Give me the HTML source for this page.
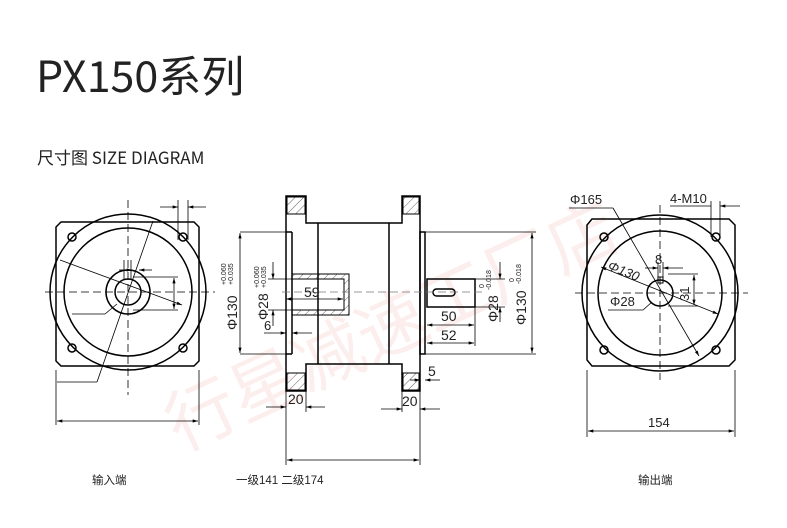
<!DOCTYPE html>
<html><head><meta charset="utf-8"><style>
html,body{margin:0;padding:0;background:#fff}
svg{display:block}
text{font-family:"Liberation Sans","Noto Sans CJK SC",sans-serif;fill:#222}
.t{font-family:"Noto Sans CJK SC","Liberation Sans",sans-serif}
</style></head><body>
<svg width="787" height="528" viewBox="0 0 787 528" xmlns="http://www.w3.org/2000/svg">
<defs>
<marker id="a" viewBox="0 0 10 6" refX="10" refY="3" markerWidth="7" markerHeight="4" orient="auto-start-reverse"><path d="M0,0L10,3L0,6z" fill="#000"/></marker>
<pattern id="h" width="6" height="6" patternUnits="userSpaceOnUse" patternTransform="rotate(45)"><line x1="0" y1="0" x2="0" y2="6" stroke="#000" stroke-width="0.6"/></pattern>
</defs>
<text class="t" x="140" y="390" font-size="70" style="fill:#fdeeee" transform="rotate(-25 300 330)">行星减速工厂店</text>
<text class="t" x="36" y="92" font-size="43">PX150系列</text>
<text class="t" x="37" y="164" font-size="17">尺寸图 SIZE DIAGRAM</text>

<!-- LEFT VIEW -->
<g fill="none" stroke="#000" stroke-width="1.5">
<path d="M61,222H194L199,227V361L194,366H61L56,361V227Z"/>
<circle cx="128" cy="292" r="78"/>
<circle cx="128" cy="292" r="64"/>
<circle cx="128" cy="292" r="22"/>
<circle cx="128" cy="292" r="13"/>
<circle cx="72" cy="237" r="4"/><circle cx="183" cy="237" r="4"/>
<circle cx="72" cy="348" r="4"/><circle cx="183" cy="348" r="4"/>
</g>
<g stroke="#000" stroke-width="0.8" fill="none">
<line x1="128" y1="200" x2="128" y2="395" stroke-dasharray="8,4"/>
<line x1="45" y1="292" x2="215" y2="292" stroke-dasharray="8,4"/>
<line x1="56" y1="370" x2="56" y2="425"/><line x1="199" y1="370" x2="199" y2="425"/>
<line x1="57" y1="421" x2="198" y2="421" marker-start="url(#a)" marker-end="url(#a)"/>
<line x1="178" y1="200" x2="178" y2="240"/><line x1="188" y1="200" x2="188" y2="240"/>
<line x1="160" y1="207" x2="178" y2="207" marker-end="url(#a)"/><line x1="188" y1="207" x2="206" y2="207" marker-start="url(#a)"/>
<line x1="155" y1="295" x2="60" y2="260"/><line x1="155" y1="295" x2="182" y2="305" marker-end="url(#a)"/>
<line x1="153" y1="221" x2="97" y2="382"/><line x1="97" y1="382" x2="57" y2="382"/>
<line x1="117" y1="304" x2="105" y2="314"/><line x1="105" y1="314" x2="72" y2="314"/>
<line x1="133" y1="277" x2="178" y2="277"/><line x1="133" y1="310" x2="178" y2="310"/>
<line x1="174" y1="278" x2="174" y2="309" marker-start="url(#a)" marker-end="url(#a)"/>
<line x1="119" y1="270" x2="132" y2="270" marker-end="url(#a)"/><line x1="139" y1="270" x2="152" y2="270" marker-start="url(#a)"/>
<line x1="124" y1="260" x2="124" y2="280"/><line x1="131" y1="260" x2="131" y2="280"/>
</g>

<!-- MIDDLE VIEW -->
<g fill="none" stroke="#000" stroke-width="1.5">
<path d="M286,196H306V223H402V196H420V391H402V364H306V391H286Z"/>
<line x1="318" y1="223" x2="318" y2="364"/><line x1="389" y1="223" x2="389" y2="364"/>
<line x1="292" y1="232" x2="292" y2="354"/><line x1="286" y1="232" x2="292" y2="232"/><line x1="286" y1="354" x2="292" y2="354"/>
<rect x="420" y="232" width="5" height="122"/>
<rect x="427" y="279" width="48" height="28"/>
<rect x="433" y="289" width="22" height="7" rx="3.5"/>
</g>
<g stroke="#000" stroke-width="1">
<rect x="287" y="197" width="18" height="17" fill="url(#h)"/>
<rect x="403" y="197" width="16" height="17" fill="url(#h)"/>
<rect x="287" y="373" width="18" height="17" fill="url(#h)"/>
<rect x="403" y="373" width="16" height="17" fill="url(#h)"/>
<path d="M292,274H349V315H292V310H344V279H292Z" fill="url(#h)"/>
</g>
<g stroke="#000" stroke-width="0.8" fill="none">
<line x1="282" y1="292" x2="485" y2="292" stroke="#777" stroke-dasharray="8,4"/>
<line x1="240" y1="232" x2="292" y2="232"/><line x1="240" y1="354" x2="292" y2="354"/>
<line x1="240" y1="233" x2="240" y2="353" marker-start="url(#a)" marker-end="url(#a)"/>
<line x1="268" y1="279" x2="292" y2="279"/><line x1="268" y1="310" x2="292" y2="310"/>
<line x1="273" y1="262" x2="273" y2="279" marker-end="url(#a)"/><line x1="273" y1="310" x2="273" y2="326" marker-start="url(#a)"/>
<line x1="286" y1="299" x2="343" y2="299" marker-start="url(#a)" marker-end="url(#a)"/>
<line x1="264" y1="333" x2="286" y2="333" marker-end="url(#a)"/><line x1="292" y1="333" x2="312" y2="333" marker-start="url(#a)"/>
<line x1="286" y1="391" x2="286" y2="465"/><line x1="420" y1="391" x2="420" y2="465"/><line x1="306" y1="391" x2="306" y2="412"/><line x1="402" y1="391" x2="402" y2="412"/>
<line x1="266" y1="407" x2="286" y2="407" marker-end="url(#a)"/><line x1="306" y1="407" x2="325" y2="407" marker-start="url(#a)"/>
<line x1="381" y1="409" x2="402" y2="409" marker-end="url(#a)"/><line x1="420" y1="409" x2="440" y2="409" marker-start="url(#a)"/>
<line x1="410" y1="380" x2="420" y2="380" marker-end="url(#a)"/><line x1="425" y1="380" x2="440" y2="380" marker-start="url(#a)"/>
<line x1="287" y1="460" x2="419" y2="460" marker-start="url(#a)" marker-end="url(#a)"/>
<line x1="425" y1="232" x2="536" y2="232"/><line x1="425" y1="354" x2="536" y2="354"/>
<line x1="532" y1="233" x2="532" y2="353" marker-start="url(#a)" marker-end="url(#a)"/>
<line x1="475" y1="279" x2="505" y2="279"/><line x1="475" y1="307" x2="505" y2="307"/>
<line x1="500" y1="262" x2="500" y2="279" marker-end="url(#a)"/><line x1="500" y1="307" x2="500" y2="322" marker-start="url(#a)"/>
<line x1="475" y1="307" x2="475" y2="346"/>
<line x1="427" y1="325" x2="474" y2="325" marker-start="url(#a)" marker-end="url(#a)"/>
<line x1="427" y1="343" x2="474" y2="343" marker-start="url(#a)" marker-end="url(#a)"/>
</g>
<g font-size="14">
<text x="304" y="297">59</text>
<text x="264" y="330" font-size="13">6</text>
<text x="288" y="404">20</text>
<text x="402" y="406">20</text>
<text x="428" y="376">5</text>
<text x="441" y="321">50</text>
<text x="441" y="340">52</text>
<text transform="translate(237,330) rotate(-90)">Φ130</text>
<text transform="translate(268,320) rotate(-90)">Φ28</text>
<text transform="translate(498,322) rotate(-90)">Φ28</text>
<text transform="translate(526,325) rotate(-90)">Φ130</text>
</g>
<g font-size="7">
<text transform="translate(226,285) rotate(-90)">+0.060</text>
<text transform="translate(233,285) rotate(-90)">+0.035</text>
<text transform="translate(259,288) rotate(-90)">+0.060</text>
<text transform="translate(266,288) rotate(-90)">+0.035</text>
<text transform="translate(484,288) rotate(-90)">0</text>
<text transform="translate(491,290) rotate(-90)">-0.018</text>
<text transform="translate(514,282) rotate(-90)">0</text>
<text transform="translate(521,284) rotate(-90)">-0.018</text>
</g>

<!-- RIGHT VIEW -->
<g fill="none" stroke="#000" stroke-width="1.5">
<path d="M592,219H729L735,225V360L729,366H592L587,360V225Z"/>
<circle cx="660" cy="293" r="78"/>
<circle cx="660" cy="293" r="62"/>
<circle cx="660" cy="293" r="13"/>
<rect x="658" y="277" width="5" height="6" stroke-width="1"/>
<circle cx="604" cy="237" r="4"/><circle cx="716" cy="237" r="4"/>
<circle cx="604" cy="350" r="4"/><circle cx="716" cy="350" r="4"/>
</g>
<g stroke="#000" stroke-width="0.8" fill="none">
<line x1="660" y1="205" x2="660" y2="380" stroke-dasharray="8,4"/>
<line x1="575" y1="293" x2="748" y2="293" stroke-dasharray="8,4"/>
<line x1="569" y1="208" x2="613" y2="208"/><line x1="613" y1="208" x2="699" y2="356" marker-end="url(#a)"/>
<line x1="601" y1="267" x2="718" y2="314" marker-start="url(#a)" marker-end="url(#a)"/>
<line x1="608" y1="310" x2="643" y2="310"/><line x1="643" y1="310" x2="652" y2="302"/>
<line x1="668" y1="274" x2="698" y2="274"/><line x1="668" y1="306" x2="698" y2="306"/>
<line x1="694" y1="275" x2="694" y2="305" marker-start="url(#a)" marker-end="url(#a)"/>
<line x1="645" y1="268" x2="658" y2="268" marker-end="url(#a)"/><line x1="663" y1="268" x2="683" y2="268" marker-start="url(#a)"/>
<line x1="658" y1="262" x2="658" y2="277"/><line x1="663" y1="262" x2="663" y2="277"/>
<line x1="711" y1="201" x2="711" y2="237"/><line x1="720" y1="201" x2="720" y2="237"/>
<line x1="670" y1="206" x2="711" y2="206"/><line x1="720" y1="206" x2="740" y2="206" marker-start="url(#a)"/>
<line x1="587" y1="370" x2="587" y2="437"/><line x1="735" y1="370" x2="735" y2="437"/>
<line x1="588" y1="431" x2="734" y2="431" marker-start="url(#a)" marker-end="url(#a)"/>
</g>
<g font-size="13">
<text x="570" y="204">Φ165</text>
<text x="670" y="203">4-M10</text>
<text x="655" y="264">8</text>
<text x="607" y="269" font-style="italic" transform="rotate(22 607 269)">Φ130</text>
<text x="610" y="306">Φ28</text>
<text transform="translate(689,301) rotate(-90)">31</text>
<text x="648" y="427">154</text>
</g>

<g class="t" font-size="11.5">
<text x="92" y="484">输入端</text>
<text x="236" y="484">一级141 二级174</text>
<text x="638" y="484">输出端</text>
</g>
</svg>
</body></html>
